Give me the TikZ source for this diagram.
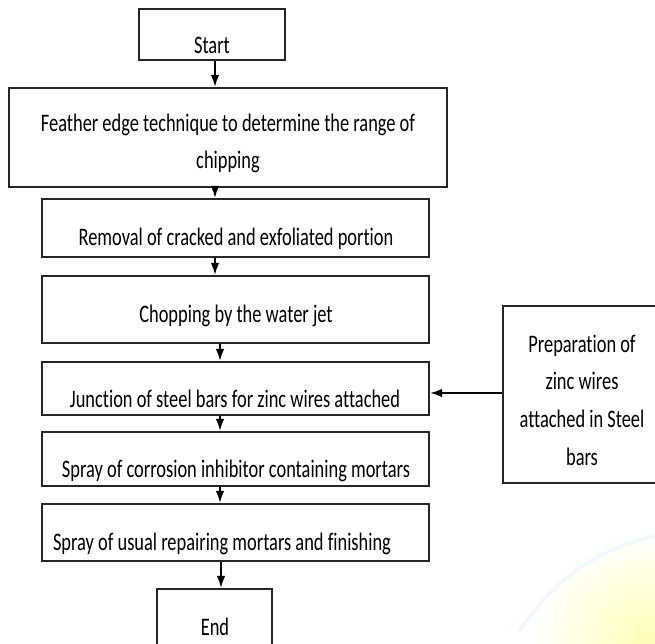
\documentclass[tikz,border=0pt]{standalone}
\usepackage{fontspec}
\setmainfont{Carlito}[Ligatures=NoCommon]
\usetikzlibrary{arrows.meta}
\newcommand\vs[1]{\scalebox{1}[1.37]{#1}}
\begin{document}
\begin{tikzpicture}[x=1pt,y=-1pt,
  box/.style={draw=black!85, line width=2.3pt, inner sep=0pt, fill=none},
  txt/.style={anchor=base, inner sep=0pt, font=\fontsize{18.4}{20}\selectfont},
  arr/.style={draw=black, line width=1.6pt, -{Latex[length=12pt,width=8.5pt]}}]
\useasboundingbox (0,0) rectangle (655,644);
\clip (0,0) rectangle (655,644);
\fill[white] (0,0) rectangle (655,644);
% faint watermark
\shade[inner color=yellow!30, outer color=white] (650,650) circle (120);
\draw[cyan!6, line width=4pt, line cap=round] (520,630) .. controls (560,570) and (610,545) .. (660,535);

% boxes
\node[box, minimum width=146pt, minimum height=51pt] (start) at (212,34.5) {};
\node[box, minimum width=438pt, minimum height=99pt] (feather) at (228,137.5) {};
\node[box, minimum width=387pt, minimum height=58pt] (removal) at (235.5,228) {};
\node[box, minimum width=387pt, minimum height=67pt] (chop) at (235.5,309.5) {};
\node[box, minimum width=387pt, minimum height=53pt] (junction) at (235.5,388.5) {};
\node[box, minimum width=387pt, minimum height=54pt] (sprayA) at (235.5,459) {};
\node[box, minimum width=387pt, minimum height=57pt] (sprayB) at (235.5,532.5) {};
\node[box, minimum width=115pt, minimum height=61pt] (end) at (214.5,619.5) {};
\node[box, minimum width=158pt, minimum height=177pt] (prep) at (582,394.5) {};

% texts
\node[txt] (tstart) at (212,54) {\vs{Start}};
\node[txt] (tfeather) at (228,132) {\vs{\fontsize{18.4}{26.3}\selectfont\begin{tabular}[t]{@{}c@{}}Feather edge technique to determine the range of\\chipping\end{tabular}}};
\node[txt] (tremoval) at (236,245) {\vs{Removal of cracked and exfoliated portion}};
\node[txt] (tchop) at (236,322) {\vs{Chopping by the water jet}};
\node[txt] (tjunction) at (235,407) {\vs{Junction of steel bars for zinc wires attached}};
\node[txt] (tsprayA) at (236,477) {\vs{Spray of corrosion inhibitor containing mortars}};
\node[txt] (tsprayB) at (222,550) {\vs{Spray of usual repairing mortars and finishing}};
\node[txt] (tend) at (215,635) {\vs{End}};
\node[txt] (tprep) at (582,352) {\vs{\fontsize{18.4}{27.7}\selectfont\begin{tabular}[t]{@{}c@{}}Preparation of\\zinc wires\\attached in Steel\\bars\end{tabular}}};

% connectors
\draw[arr] ([xshift=3pt]start.south) -- ([xshift=3pt]start.south |- feather.north);
\draw[arr] ([xshift=-13pt]feather.south) -- ([xshift=-13pt]feather.south |- removal.north);
\draw[arr] ([xshift=-20.5pt]removal.south) -- ([xshift=-20.5pt]removal.south |- chop.north);
\draw[arr] ([xshift=-15.5pt]chop.south) -- ([xshift=-15.5pt]chop.south |- junction.north);
\draw[arr] ([xshift=-15.5pt]junction.south) -- ([xshift=-15.5pt]junction.south |- sprayA.north);
\draw[arr] ([xshift=-15.5pt]sprayA.south) -- ([xshift=-15.5pt]sprayA.south |- sprayB.north);
\draw[arr] ([xshift=-14.5pt]sprayB.south) -- ([xshift=-14.5pt]sprayB.south |- end.north);
\draw[arr] (prep.west |- 0,393) -- (junction.east |- 0,393);
\end{tikzpicture}
\end{document}
